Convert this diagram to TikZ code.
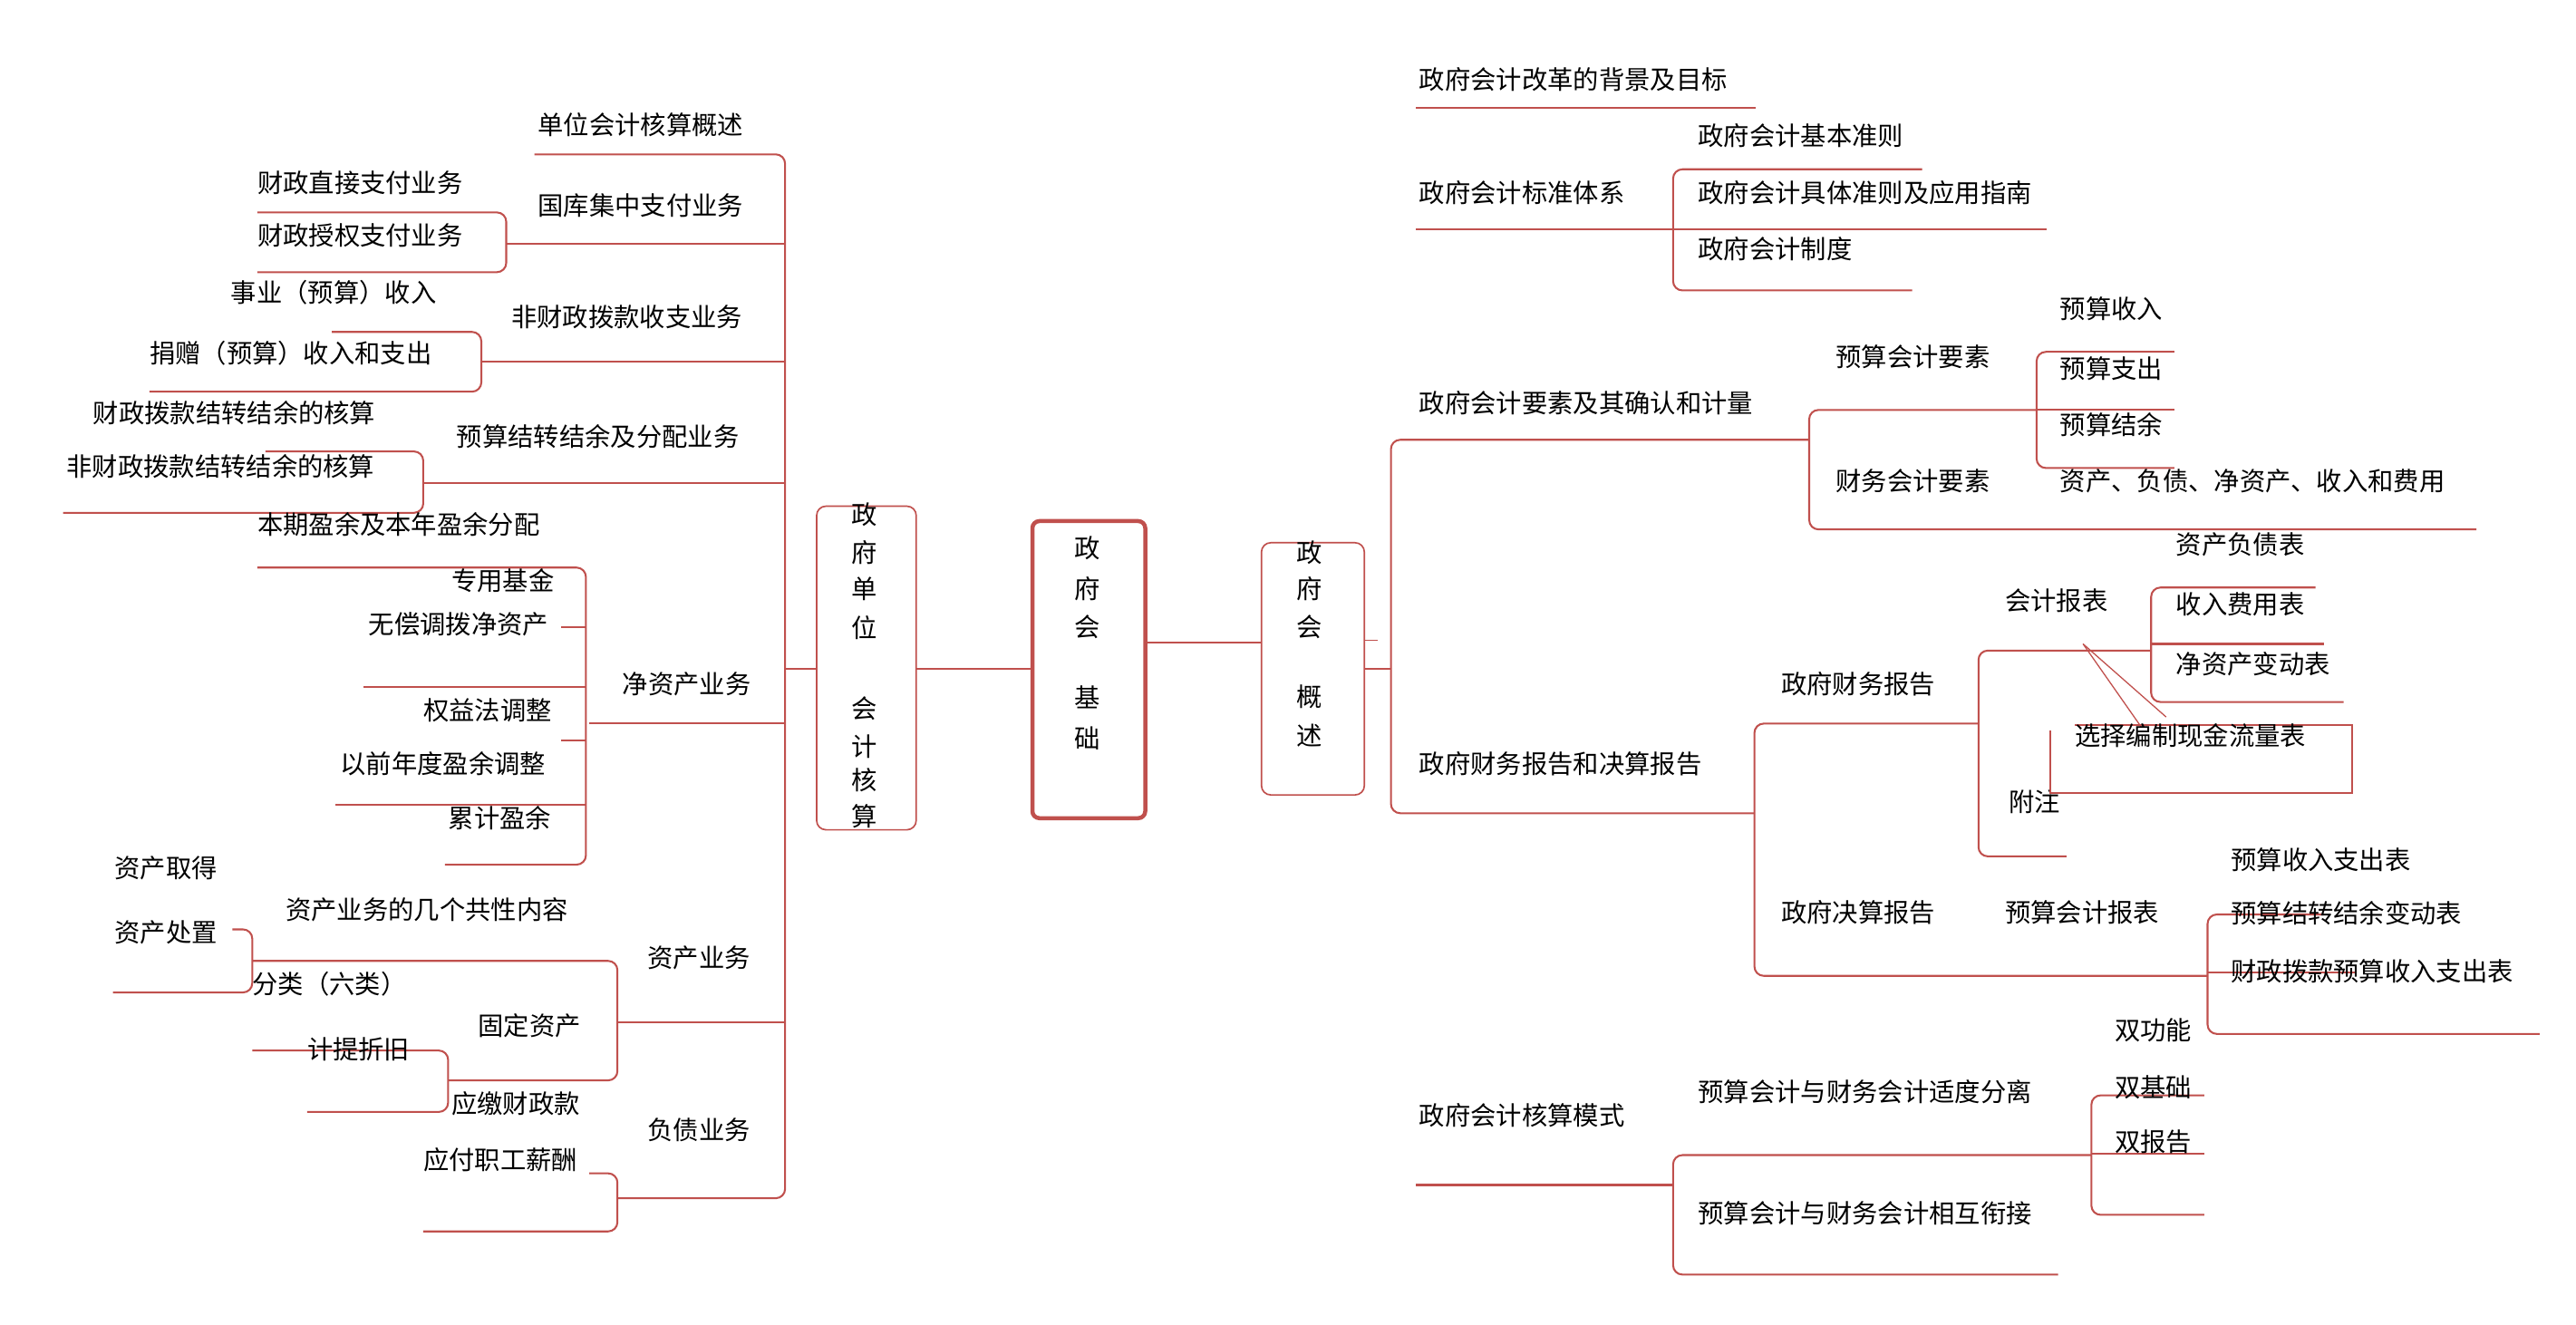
\documentclass[tikz,border=0pt]{standalone}
\usepackage{fontspec}
\setmainfont{Noto Sans CJK SC}
\definecolor{ln}{HTML}{C0504D}
\begin{document}
\begin{tikzpicture}[x=0.05cm,y=-0.05cm,
  lbl/.style={anchor=west,inner sep=0pt,font=\fontsize{22}{26}\selectfont},
  vt/.style={inner sep=0pt,font=\fontsize{22}{26}\selectfont},
  L/.style={draw=ln,line width=1.6pt,rounded corners=8pt}]
\useasboundingbox (0,0) rectangle (1552,798);
% centre boxes
\draw[ln,line width=3.5pt,rounded corners=6pt] (622,314) rectangle (690,493);
\draw[L,line width=1.3pt] (492,305) rectangle (552,500);
\draw[L,line width=1.3pt] (760,327) rectangle (822,479);
\foreach \c/\y [count=\i] in {政/330,府/355,会/378,基/420,础/445}{\node[vt] (c\i) at (655,\y) {\c};}
\foreach \c/\y [count=\i] in {政/310,府/333,单/355,位/378,会/427,计/450,核/470,算/492}{\node[vt] (l\i) at (521,\y) {\c};}
\foreach \c/\y [count=\i] in {政/333,府/355,会/378,概/420,述/443}{\node[vt] (r\i) at (789,\y) {\c};}
\draw[L] (552,403) -- (622,403);
\draw[L] (690,387) -- (760,387);
\draw[L] (822,403) -- (838,403);
\draw[ln,line width=1pt] (822,386) -- (830,386);
% ---------- left ----------
\draw[L] (322,93) -- (473,93) -- (473,722) -- (372,722);
\draw[L] (473,403) -- (492,403);
\foreach \y/\a in {147/305,218/290,291/255,436/355,616/372}{\draw[L] (\a,\y) -- (473,\y);}
\node[lbl] (a1) at (324,75) {单位会计核算概述};
\node[lbl] (a2) at (324,124) {国库集中支付业务};
\node[lbl] (a3) at (308,191) {非财政拨款收支业务};
\node[lbl] (a4) at (275,263) {预算结转结余及分配业务};
\node[lbl] (a5) at (375,412) {净资产业务};
\node[lbl] (a6) at (390,577) {资产业务};
\node[lbl] (a7) at (390,681) {负债业务};
% 国库
\draw[L] (155,128) -- (305,128) -- (305,164) -- (155,164);
\node[lbl] (b1) at (155,110) {财政直接支付业务};
\node[lbl] (b2) at (155,142) {财政授权支付业务};
% 非财政
\draw[L] (200,200) -- (290,200) -- (290,236) -- (90,236);
\node[lbl] (b3) at (139,176) {事业（预算）收入};
\node[lbl] (b4) at (90,213) {捐赠（预算）收入和支出};
% 预算结转
\draw[L] (160,272) -- (255,272) -- (255,309) -- (38,309);
\node[lbl] (b5) at (56,249) {财政拨款结转结余的核算};
\node[lbl] (b6) at (40,281) {非财政拨款结转结余的核算};
% 净资产
\draw[L] (155,342) -- (353,342) -- (353,521) -- (268,521);
\draw[L] (338,378) -- (353,378);
\draw[L] (219,414) -- (353,414);
\draw[L] (338,446) -- (353,446);
\draw[L] (202,485) -- (353,485);
\node[lbl] (b7) at (155,316) {本期盈余及本年盈余分配};
\node[lbl] (b8) at (272,350) {专用基金};
\node[lbl] (b9) at (222,376) {无偿调拨净资产};
\node[lbl] (b10) at (255,428) {权益法调整};
\node[lbl] (b11) at (205,460) {以前年度盈余调整};
\node[lbl] (b12) at (270,493) {累计盈余};
% 资产
\draw[L] (152,579) -- (372,579) -- (372,651) -- (270,651);
\node[lbl] (b13) at (172,548) {资产业务的几个共性内容};
\node[lbl] (b14) at (288,618) {固定资产};
\draw[L] (140,560) -- (152,560) -- (152,598) -- (68,598);
\node[lbl] (b15) at (69,523) {资产取得};
\node[lbl] (b16) at (69,562) {资产处置};
\node[lbl] (b17) at (152,593) {分类（六类）};
\draw[L] (152,633) -- (270,633) -- (270,670) -- (185,670);
\node[lbl] (b18) at (185,632) {计提折旧};
\node[lbl] (b19) at (272,665) {应缴财政款};
% 负债
\draw[L] (355,707) -- (372,707) -- (372,742) -- (255,742);
\node[lbl] (b20) at (255,699) {应付职工薪酬};
% ---------- right ----------
\draw[L] (838,403) -- (838,265) -- (1090,265);
\draw[L] (838,403) -- (838,490) -- (1057,490);
\draw[L] (853,65) -- (1058,65);
\node[lbl] (d1) at (855,48) {政府会计改革的背景及目标};
\draw[L] (853,138) -- (1233,138);
\draw[L] (1158,102) -- (1008,102) -- (1008,175) -- (1152,175);
\node[lbl] (d2) at (855,116) {政府会计标准体系};
\node[lbl] (e1) at (1023,82) {政府会计基本准则};
\node[lbl] (e2) at (1023,116) {政府会计具体准则及应用指南};
\node[lbl] (e3) at (1023,150) {政府会计制度};
\node[lbl] (d3) at (855,243) {政府会计要素及其确认和计量};
\draw[L] (1227,247) -- (1090,247) -- (1090,319) -- (1492,319);
\node[lbl] (e4) at (1106,215) {预算会计要素};
\node[lbl] (e5) at (1106,290) {财务会计要素};
\draw[L] (1310,212) -- (1227,212) -- (1227,282) -- (1310,282);
\draw[L] (1227,247) -- (1310,247);
\node[lbl] (f1) at (1241,186) {预算收入};
\node[lbl] (f2) at (1241,222) {预算支出};
\node[lbl] (f3) at (1241,256) {预算结余};
\node[lbl] (f4) at (1241,290) {资产、负债、净资产、收入和费用};
\node[lbl] (d4) at (855,460) {政府财务报告和决算报告};
\draw[L] (1192,436) -- (1057,436) -- (1057,588) -- (1330,588);
\node[lbl] (e6) at (1073,412) {政府财务报告};
\node[lbl] (e7) at (1073,550) {政府决算报告};
\draw[L] (1296,392) -- (1192,392) -- (1192,516) -- (1245,516);
\node[lbl] (g1) at (1208,362) {会计报表};
\node[lbl] (g2) at (1210,483) {附注};
\draw[L] (1395,354) -- (1296,354) -- (1296,423) -- (1412,423);
\draw[L] (1296,388) -- (1400,388);
\node[lbl] (h1) at (1311,328) {资产负债表};
\node[lbl] (h2) at (1311,364) {收入费用表};
\node[lbl] (h3) at (1311,400) {净资产变动表};
\draw[ln,line width=1pt] (1255,388) -- (1305,432);
\draw[ln,line width=1pt] (1255,388) -- (1290,438);
\draw[L,rounded corners=0pt] (1250,437) -- (1417,437) -- (1417,478) -- (1235,478) -- (1235,440);
\node[lbl] (h4) at (1250,443) {选择编制现金流量表};
\node[lbl] (g3) at (1208,550) {预算会计报表};
\draw[L] (1400,551) -- (1330,551) -- (1330,623) -- (1530,623);
\draw[L] (1330,586) -- (1420,586);
\node[lbl] (h5) at (1344,518) {预算收入支出表};
\node[lbl] (h6) at (1344,550) {预算结转结余变动表};
\node[lbl] (h7) at (1344,585) {财政拨款预算收入支出表};
\node[lbl] (d5) at (855,672) {政府会计核算模式};
\draw[L] (853,714) -- (1008,714);
\draw[L] (1260,696) -- (1008,696) -- (1008,768) -- (1240,768);
\node[lbl] (e8) at (1023,658) {预算会计与财务会计适度分离};
\node[lbl] (e9) at (1023,731) {预算会计与财务会计相互衔接};
\draw[L] (1328,660) -- (1260,660) -- (1260,732) -- (1328,732);
\draw[L] (1260,695) -- (1328,695);
\node[lbl] (k1) at (1274,621) {双功能};
\node[lbl] (k2) at (1274,655) {双基础};
\node[lbl] (k3) at (1274,688) {双报告};
\end{tikzpicture}
\end{document}
